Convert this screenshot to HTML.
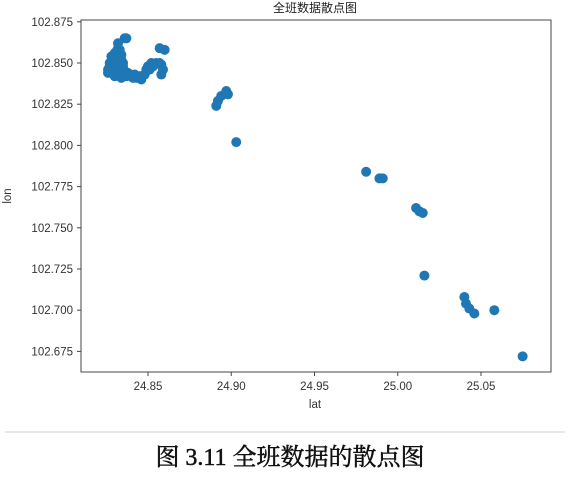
<!DOCTYPE html>
<html><head><meta charset="utf-8"><style>
body{margin:0;background:#fff;width:570px;height:484px;overflow:hidden;font-family:"Liberation Sans","DejaVu Sans",sans-serif}
</style></head><body>
<svg width="570" height="484" xmlns="http://www.w3.org/2000/svg">
<text x="315" y="12" font-size="12" text-anchor="middle" fill="#222" font-family="'Noto Sans CJK SC',sans-serif">全班数据散点图</text>
<g id="plot"></g>
<rect x="81" y="20" width="470" height="352" fill="none" stroke="#444" stroke-width="1"/>
<text x="315" y="408" font-size="11.5" text-anchor="middle" fill="#333">lat</text>
<text x="0" y="0" font-size="11.5" text-anchor="middle" fill="#333" transform="translate(11,196) rotate(-90)">lon</text>
<line x1="5" y1="432" x2="565" y2="432" stroke="#e8e8e8" stroke-width="2"/>
<text x="290" y="465" font-size="24" text-anchor="middle" fill="#111" stroke="#111" stroke-width="0.5" font-family="'Liberation Serif','Noto Serif CJK SC',serif">图 3.11 全班数据的散点图</text>
</svg>
<script>
const lat=[24.826,24.827,24.828,24.829,24.830,24.831,24.832,24.833,24.834,24.835,24.830,24.832,24.836,24.837,24.838,24.840,24.843,24.846,24.848,24.850,24.852,24.855,24.858,24.859,24.858,24.857,24.860,24.829,24.827,24.833,24.836,24.831,24.842,24.849,24.828,24.834,
24.826,24.828,24.830,24.832,24.834,24.829,24.831,24.833,24.835,24.827,24.830,24.834,24.837,24.839,24.841,24.845,24.851,24.854,24.857,24.853,24.832,24.830,
24.891,24.892,24.894,24.897,24.898,24.903,24.981,24.989,24.991,25.011,25.013,25.015,25.016,25.040,25.041,25.043,25.046,25.058,25.075];
const lon=[102.846,102.850,102.844,102.852,102.848,102.855,102.843,102.858,102.846,102.850,102.842,102.862,102.865,102.865,102.844,102.842,102.841,102.840,102.843,102.848,102.850,102.850,102.849,102.846,102.843,102.859,102.858,102.847,102.848,102.852,102.845,102.857,102.843,102.846,102.854,102.841,
102.844,102.849,102.851,102.849,102.852,102.854,102.845,102.844,102.848,102.846,102.853,102.855,102.842,102.843,102.841,102.842,102.846,102.849,102.850,102.848,102.859,102.856,
102.824,102.827,102.830,102.833,102.831,102.802,102.784,102.780,102.780,102.762,102.760,102.759,102.721,102.708,102.704,102.701,102.698,102.700,102.672];
const xTicks=[24.85,24.90,24.95,25.00,25.05];
const yTicks=[102.875,102.850,102.825,102.800,102.775,102.750,102.725,102.700,102.675];
const NS="http://www.w3.org/2000/svg";
function X(v){return 148+(v-24.85)/0.05*83.25;}
function Y(v){return 63+(102.85-v)/0.025*41.2;}
const g=document.getElementById('plot');
function mk(t,a){const e=document.createElementNS(NS,t);for(const k in a)e.setAttribute(k,a[k]);g.appendChild(e);return e;}
xTicks.forEach(v=>{
 const l=mk('line',{x1:X(v),x2:X(v),y1:372,y2:376,stroke:'#444'});
 
 
 const t=mk('text',{x:X(v),y:390,'font-size':11.5,'text-anchor':'middle',fill:'#333'});
 t.textContent=v.toFixed(2);
 
 
});
yTicks.forEach(v=>{
 const l=mk('line',{x1:77,x2:81,y1:Y(v),y2:Y(v),stroke:'#444'});
 
 
 const t=mk('text',{x:73,y:Y(v)+4,'font-size':11.5,'text-anchor':'end',fill:'#333'});
 t.textContent=v.toFixed(3);
 
 
});
lat.forEach((v,i)=>{
 const c=mk('circle',{cx:X(v),cy:Y(lon[i]),r:5,fill:'#1f77b4'});
 
 
});
</script>
</body></html>
